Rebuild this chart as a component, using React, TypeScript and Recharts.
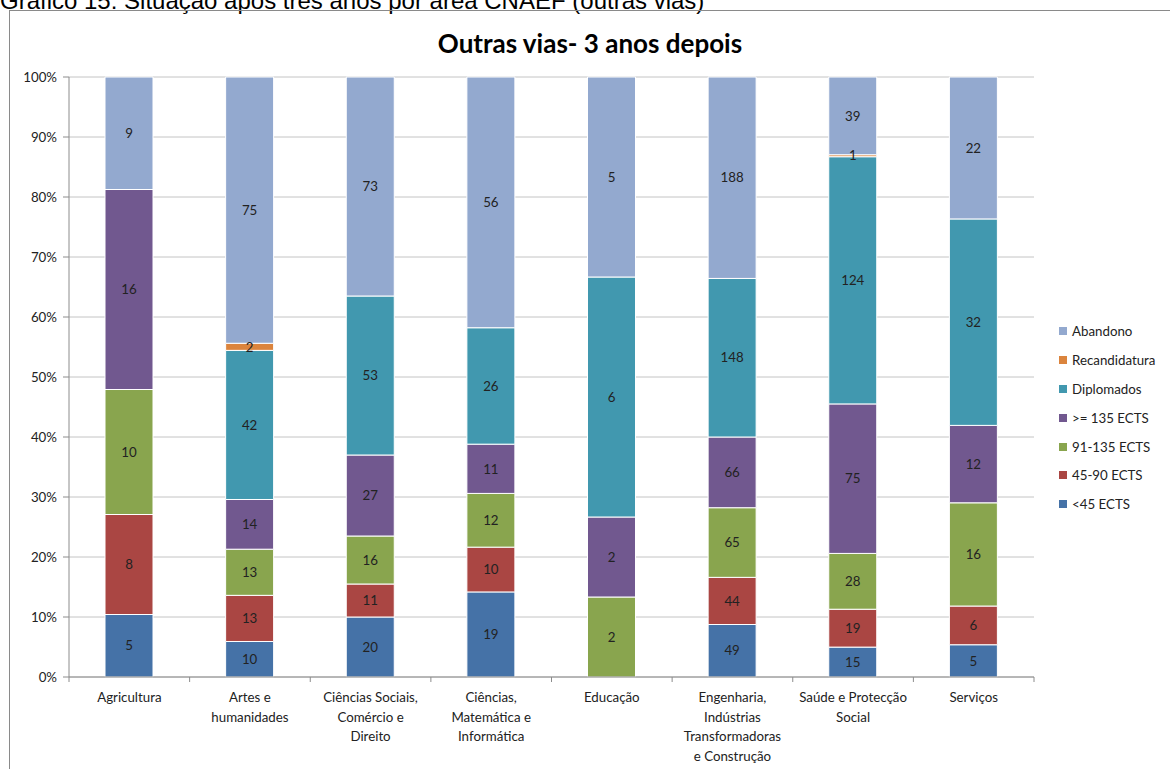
import React from 'react';
import { BarChart, Bar, XAxis, YAxis, CartesianGrid, LabelList } from 'recharts';

const categories = [
  'Agricultura',
  'Artes e humanidades',
  'Ciências Sociais, Comércio e Direito',
  'Ciências, Matemática e Informática',
  'Educação',
  'Engenharia, Indústrias Transformadoras e Construção',
  'Saúde e Protecção Social',
  'Serviços',
];
const categoryLines = [
  ['Agricultura'],
  ['Artes e', 'humanidades'],
  ['Ciências Sociais,', 'Comércio e', 'Direito'],
  ['Ciências,', 'Matemática e', 'Informática'],
  ['Educação'],
  ['Engenharia,', 'Indústrias', 'Transformadoras', 'e Construção'],
  ['Saúde e Protecção', 'Social'],
  ['Serviços'],
];

const lt45 = [5, 10, 20, 19, 0, 49, 15, 5];
const e45to90 = [8, 13, 11, 10, 0, 44, 19, 6];
const e91to135 = [10, 13, 16, 12, 2, 65, 28, 16];
const ge135 = [16, 14, 27, 11, 2, 66, 75, 12];
const diplomados = [0, 42, 53, 26, 6, 148, 124, 32];
const recandidatura = [0, 2, 0, 0, 0, 0, 1, 0];
const abandono = [9, 75, 73, 56, 5, 188, 39, 22];

const yTicks = [0, 0.1, 0.2, 0.3, 0.4, 0.5, 0.6, 0.7, 0.8, 0.9, 1];

const series = [
  { key: 'lt45', name: '<45 ECTS', color: '#4572A7', values: lt45 },
  { key: 'e45to90', name: '45-90 ECTS', color: '#AA4643', values: e45to90 },
  { key: 'e91to135', name: '91-135 ECTS', color: '#89A54E', values: e91to135 },
  { key: 'ge135', name: '>= 135 ECTS', color: '#71588F', values: ge135 },
  { key: 'diplomados', name: 'Diplomados', color: '#4198AF', values: diplomados },
  { key: 'recandidatura', name: 'Recandidatura', color: '#DB843D', values: recandidatura },
  { key: 'abandono', name: 'Abandono', color: '#93A9CF', values: abandono },
];

const data = categories.map((c, i) => {
  const row: Record<string, any> = { category: c, idx: i };
  series.forEach((s) => {
    row[s.key] = s.values[i];
  });
  return row;
});

const FONT = 'Lato, "Open Sans", sans-serif';
const AXIS_COLOR = '#8C8C8C';

const XTick = (props: any) => {
  const { x, y, payload, index } = props;
  const half = payload && payload.offset ? payload.offset : 60.3;
  const lines = categoryLines[index] || [String(payload.value)];
  return (
    <g>
      <line x1={x - half} x2={x - half} y1={y} y2={y + 5} stroke={AXIS_COLOR} />
      {index === categories.length - 1 && (
        <line x1={x + half} x2={x + half} y1={y} y2={y + 5} stroke={AXIS_COLOR} />
      )}
      {lines.map((l: string, i: number) => (
        <text
          key={i}
          x={x}
          y={y + 25 + i * 19.5}
          textAnchor="middle"
          fontFamily={FONT}
          fontSize={13.3}
          fill="#222"
        >
          {l}
        </text>
      ))}
    </g>
  );
};

export default function App() {
  const legendItems = [...series].reverse();
  return (
    <div style={{ position: 'absolute', left: 0, top: 0, width: 1170, height: 769, overflow: 'hidden', background: '#fff' }}>
      <div
        style={{
          position: 'absolute',
          left: 0,
          top: -11,
          fontFamily: '"Liberation Sans", Arial, sans-serif',
          fontSize: 24,
          lineHeight: '24px',
          whiteSpace: 'nowrap',
          color: '#000',
        }}
      >
        Gráfico 15: Situação após três anos por área CNAEF (outras vias)
      </div>
      <div
        style={{
          position: 'absolute',
          left: 9,
          top: 10,
          width: 1200,
          height: 800,
          border: '1px solid #8A8A8A',
          boxSizing: 'border-box',
        }}
      />
      <div
        style={{
          position: 'absolute',
          left: 290,
          width: 600,
          top: 27,
          textAlign: 'center',
          fontFamily: FONT,
          fontWeight: 'bold',
          fontSize: 26,
          lineHeight: '32px',
          color: '#000',
        }}
      >
        Outras vias- 3 anos depois
      </div>
      <div style={{ position: 'absolute', left: 0, top: 0 }}>
        <BarChart
          width={1170}
          height={769}
          data={data}
          stackOffset="expand"
          margin={{ top: 77, right: 136, bottom: 12, left: 9 }}
          barSize={48}
        >
          <CartesianGrid vertical={false} stroke="#C4C4C4" />
          <XAxis
            dataKey="category"
            interval={0}
            height={80}
            tickLine={false}
            tickSize={0}
            tickMargin={0}
            axisLine={{ stroke: AXIS_COLOR }}
            tick={<XTick />}
          />
          <YAxis
            width={60}
            ticks={yTicks}
            domain={[0, 1]}
            interval={0}
            tickFormatter={(v: number) => `${Math.round(v * 100)}%`}
            axisLine={{ stroke: AXIS_COLOR }}
            tickLine={{ stroke: AXIS_COLOR }}
            tickSize={6}
            tickMargin={6}
            tick={{ fontFamily: FONT, fontSize: 13.3, fill: '#222' }}
          />
          {series.map((s) => (
            <Bar
              key={s.key}
              dataKey={s.key}
              name={s.name}
              stackId="a"
              fill={s.color}
              stroke="#ffffff"
              strokeWidth={1}
              isAnimationActive={false}
            >
              <LabelList
                dataKey={s.key}
                position="center"
                fill="#222"
                fontFamily={FONT}
                fontSize={13.3}
                formatter={(v: any) => (v ? v : '')}
              />
            </Bar>
          ))}
        </BarChart>
      </div>
      <div style={{ position: 'absolute', left: 1059, top: 317 }}>
        {legendItems.map((s) => (
          <div
            key={s.key}
            style={{
              display: 'flex',
              alignItems: 'center',
              height: 28.8,
              fontFamily: FONT,
              fontSize: 13.3,
              color: '#222',
              whiteSpace: 'nowrap',
            }}
          >
            <span style={{ display: 'inline-block', width: 8, height: 8, background: s.color, marginRight: 5 }} />
            {s.name}
          </div>
        ))}
      </div>
    </div>
  );
}
